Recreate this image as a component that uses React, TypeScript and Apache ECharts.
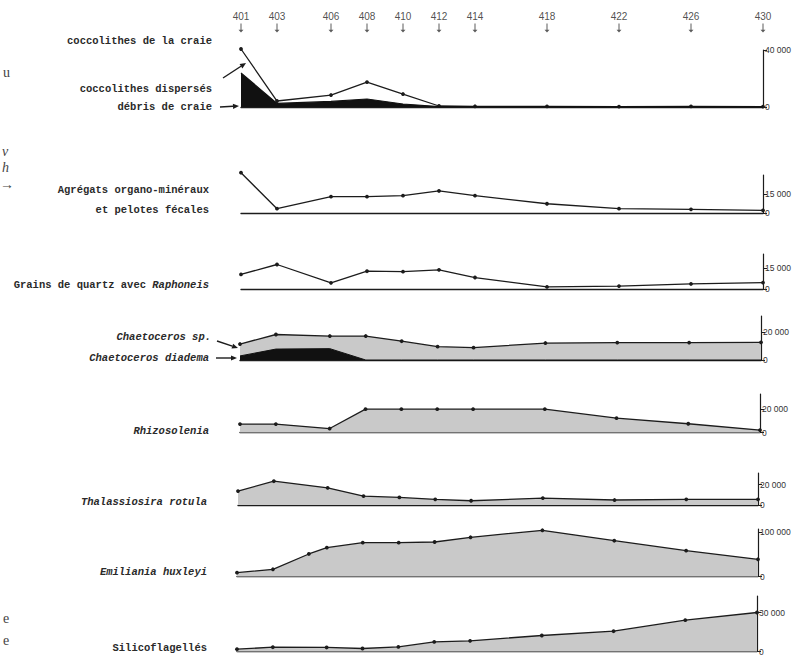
import React, { useEffect, useRef } from "react";
import * as echarts from "echarts";

const stations = [401, 403, 406, 408, 410, 412, 414, 418, 422, 426, 430];
const debrisCraie = [23900, 2500, 3900, 5600, 2100, 300, 200, 200, 100, 200, 100];
const coccoDisperses = [16800, 1700, 4500, 11900, 7000, 400, 300, 200, 200, 200, 200];
const agregats = [31800, 3400, 12900, 12900, 13700, 17400, 13700, 7300, 3400, 2900, 2100];
const grainsQuartz = [10400, 17500, 4400, 12700, 12400, 13700, 8200, 1500, 2100, 3600, 4600];
const chaetoDiadema = [2900, 7800, 8100, 0, 0, 0, 0, 0, 0, 0, 0];
const chaetoSp = [8500, 10400, 9000, 17100, 13400, 9500, 8800, 12100, 12400, 12400, 12600];
const rhizosolenia = [7200, 7200, 3400, 20000, 20000, 20000, 20000, 20000, 12300, 7500, 2100];
const thalassiosira = [13700, 23400, 16900, 8800, 7500, 5600, 4200, 6800, 4900, 5600, 5600];
const emilianiaStations = [401, 403, 405, 406, 408, 410, 412, 414, 418, 422, 426, 430];
const emiliania = [8500, 16200, 50600, 64700, 76000, 76000, 77500, 88100, 103800, 80400, 58000, 38700];
const silicoflagelles = [1800, 3300, 3100, 2300, 3500, 7400, 8200, 12300, 15600, 24100, 30000];
const tickValues = [40000, 15000, 15000, 20000, 20000, 20000, 100000, 30000];
const axisMax = [40000, 30000, 25000, 31400, 33000, 31500, 106700, 42700];

// layout of the panels (pixels)
const panels = [
  { left: 241, right: 40, top: 50, height: 57 },
  { left: 241, right: 40, top: 175, height: 38 },
  { left: 241, right: 40, top: 254, height: 35 },
  { left: 240, right: 42, top: 316, height: 44 },
  { left: 240, right: 43, top: 394, height: 38.5 },
  { left: 238, right: 45, top: 473, height: 32 },
  { left: 237, right: 45, top: 529, height: 47.5 },
  { left: 237, right: 46, top: 596, height: 55.5 },
];

const GREY = "#c9c9c9";
const INK = "#1c1c1c";
const MONO = "'Liberation Mono', 'DejaVu Sans Mono', monospace";

const fmt = (v: number) => String(v).replace(/\B(?=(\d{3})+(?!\d))/g, " ");
const pairs = (xs: number[], ys: number[]) => xs.map((x, i) => [x, ys[i]]);
const sum = (a: number[], b: number[]) => a.map((v, i) => v + b[i]);

function arrow(x1: number, y1: number, x2: number, y2: number) {
  const a = Math.atan2(y2 - y1, x2 - x1);
  const L = 6, W = 2.6;
  const bx = x2 - L * Math.cos(a), by = y2 - L * Math.sin(a);
  const px = -Math.sin(a) * W, py = Math.cos(a) * W;
  return {
    type: "group",
    children: [
      { type: "line", shape: { x1, y1, x2: bx, y2: by }, style: { stroke: INK, lineWidth: 1.4 } },
      {
        type: "polygon",
        shape: { points: [[x2, y2], [bx + px, by + py], [bx - px, by - py]] },
        style: { fill: INK },
      },
    ],
  };
}

function label(text: string, x: number, y: number, rich?: boolean) {
  return {
    type: "text",
    x,
    y,
    style: {
      text,
      fontFamily: MONO,
      fontSize: 10.5,
      fontWeight: "bold",
      fill: "#2a2a2a",
      align: "right",
      verticalAlign: "middle",
      rich: rich
        ? {
            i: {
              fontFamily: MONO,
              fontSize: 10.5,
              fontWeight: "bold",
              fontStyle: "italic",
              fill: "#2a2a2a",
            },
          }
        : undefined,
    },
  };
}

function edge(text: string, x: number, y: number, italic?: boolean) {
  return {
    type: "text",
    x,
    y,
    style: {
      text,
      fontFamily: "'Liberation Serif', serif",
      fontSize: 14,
      fontStyle: italic ? "italic" : "normal",
      fill: "#444",
      align: "left",
      verticalAlign: "middle",
    },
  };
}

export default function App() {
  const ref = useRef<HTMLDivElement>(null);
  useEffect(() => {
    if (!ref.current) return;
    const chart = echarts.init(ref.current, undefined, { renderer: "svg" });

    const grid: any[] = [{ left: 241, right: 40, top: 24, height: 8 }];
    const xAxis: any[] = [
      { gridIndex: 0, type: "value", min: 401, max: 430, show: false },
    ];
    const yAxis: any[] = [{ gridIndex: 0, type: "value", min: 0, max: 1, show: false }];

    panels.forEach((p, i) => {
      grid.push({ ...p });
      xAxis.push({
        gridIndex: i + 1,
        type: "value",
        min: 401,
        max: 430,
        axisLine: { show: true, onZero: false, lineStyle: { color: INK, width: 1.4 } },
        axisTick: { show: false },
        axisLabel: { show: false },
        splitLine: { show: false },
      });
      yAxis.push({
        gridIndex: i + 1,
        type: "value",
        position: "right",
        min: 0,
        max: axisMax[i],
        axisLine: { show: true, onZero: false, lineStyle: { color: INK, width: 1.2 } },
        axisTick: {
          show: true,
          length: 4,
          customValues: [0, tickValues[i]],
          lineStyle: { color: INK, width: 1 },
        },
        axisLabel: {
          show: true,
          customValues: [0, tickValues[i]],
          formatter: (v: number) => fmt(v),
          fontFamily: "'Liberation Sans', Arial, sans-serif",
          fontSize: 8.5,
          color: "#333",
          margin: 2,
        },
        splitLine: { show: false },
      });
    });

    const lineBase = (gi: number, name: string, data: number[][], extra: any = {}) => ({
      type: "line",
      name,
      xAxisIndex: gi,
      yAxisIndex: gi,
      data,
      clip: false,
      symbol: "circle",
      symbolSize: 3.8,
      itemStyle: { color: INK },
      lineStyle: { color: INK, width: 1.3 },
      ...extra,
    });

    const coccoTotal = sum(debrisCraie, coccoDisperses);
    const chaetoTotal = sum(chaetoDiadema, chaetoSp);

    const series: any[] = [
      {
        type: "scatter",
        name: "stations",
        xAxisIndex: 0,
        yAxisIndex: 0,
        data: stations.map((s) => [s, 0.5]),
        symbol: "path://M2,0 L3,0 L3,7 L5,7 L2.5,10 L0,7 L2,7 Z",
        symbolSize: [5, 9],
        itemStyle: { color: "#333" },
        label: {
          show: true,
          position: "top",
          distance: 2,
          formatter: (p: any) => String(p.value[0]),
          fontFamily: "'Liberation Sans', Arial, sans-serif",
          fontSize: 10,
          color: "#222",
        },
      },
      lineBase(1, "coccolithes dispersés", pairs(stations, coccoTotal), { z: 2 }),
      lineBase(1, "débris de craie", pairs(stations, debrisCraie), {
        z: 3,
        symbol: "none",
        areaStyle: { color: "#111", opacity: 1 },
        lineStyle: { color: "#111", width: 1.2 },
      }),
      lineBase(2, "Agrégats organo-minéraux et pelotes fécales", pairs(stations, agregats)),
      lineBase(3, "Grains de quartz avec Raphoneis", pairs(stations, grainsQuartz)),
      lineBase(4, "Chaetoceros sp.", pairs(stations, chaetoTotal), {
        z: 2,
        areaStyle: { color: GREY, opacity: 1 },
      }),
      lineBase(4, "Chaetoceros diadema", pairs(stations, chaetoDiadema), {
        z: 3,
        symbol: "none",
        areaStyle: { color: "#111", opacity: 1 },
        lineStyle: { color: "#111", width: 1 },
      }),
      lineBase(5, "Rhizosolenia", pairs(stations, rhizosolenia), {
        areaStyle: { color: GREY, opacity: 1 },
      }),
      lineBase(6, "Thalassiosira rotula", pairs(stations, thalassiosira), {
        areaStyle: { color: GREY, opacity: 1 },
      }),
      lineBase(7, "Emiliania huxleyi", pairs(emilianiaStations, emiliania), {
        areaStyle: { color: GREY, opacity: 1 },
      }),
      lineBase(8, "Silicoflagellés", pairs(stations, silicoflagelles), {
        areaStyle: { color: GREY, opacity: 1 },
      }),
    ];

    const graphic: any[] = [
      label("coccolithes de la craie", 212, 40.5),
      label("coccolithes dispersés", 212, 89),
      label("débris de craie", 212, 107),
      label("Agrégats organo-minéraux", 209, 190),
      label("et pelotes fécales", 209, 210),
      label("Grains de quartz avec {i|Raphoneis}", 209, 285, true),
      label("{i|Chaetoceros sp.}", 211, 337, true),
      label("{i|Chaetoceros diadema}", 209, 358, true),
      label("{i|Rhizosolenia}", 209, 431, true),
      label("{i|Thalassiosira rotula}", 207, 502, true),
      label("{i|Emiliania huxleyi}", 207, 572, true),
      label("Silicoflagellés", 207, 648),
      arrow(223, 78, 246, 63),
      arrow(220, 107, 239, 106),
      arrow(217, 341, 238, 348),
      arrow(216, 358, 237, 358),
      edge("u", 3, 72),
      edge("v", 2, 151, true),
      edge("h", 2, 167, true),
      edge("→", 0, 184),
      edge("e", 3, 618),
      edge("e", 3, 640),
    ];

    chart.setOption({
      animation: false,
      backgroundColor: "#fff",
      grid,
      xAxis,
      yAxis,
      series,
      graphic,
    });
    return () => chart.dispose();
  }, []);

  return (
    <div
      ref={ref}
      style={{ position: "fixed", left: 0, top: 0, width: 803, height: 657 }}
    />
  );
}
